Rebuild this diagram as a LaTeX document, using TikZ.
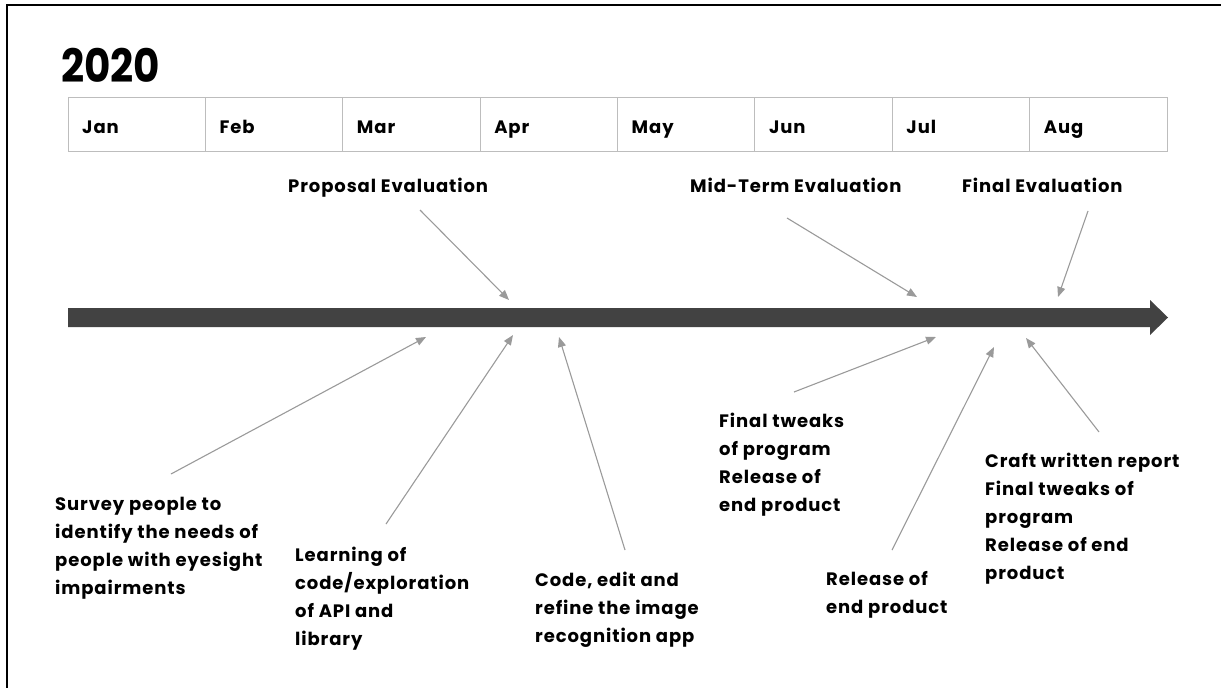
\documentclass[tikz,border=0pt]{standalone}
\usepackage{fontspec}
\setmainfont{Poppins}[LetterSpace=5]
\newfontfamily\yearfont{Poppins}[FakeStretch=0.88]
\usetikzlibrary{arrows.meta}
\definecolor{barcol}{HTML}{424242}
\definecolor{arrcol}{HTML}{9A9A9A}
\definecolor{gridcol}{HTML}{BDBDBD}
\tikzset{
  txt/.style={font=\bfseries\fontsize{18}{28}\selectfont, inner sep=0pt},
  lbl/.style={txt, align=left, anchor=north west},
  evl/.style={txt, anchor=base west},
  mon/.style={txt, anchor=base west},
  pointer/.style={draw=arrcol, line width=1.1pt, -{Triangle[length=10pt,width=8pt]}},
}
\begin{document}
\begin{tikzpicture}[x=1pt,y=-1pt]
\useasboundingbox (0,0) rectangle (1221,688);
% frame (top and left edges)
\draw[line width=2pt, black] (7,688) -- (7,5) -- (1221,5);
% year
\node[inner sep=0pt, anchor=base west, font=\yearfont\bfseries\fontsize{46}{46}\selectfont] (year) at (61,82) {2020};
% month table
\draw[gridcol, line width=1pt] (68,97) rectangle (1167,151);
\foreach \i in {1,...,7} { \draw[gridcol, line width=1pt] ({68+137.375*\i},97) -- ({68+137.375*\i},151); }
\foreach \m [count=\i from 0] in {Jan,Feb,Mar,Apr,May,Jun,Jul,Aug} {
  \node[mon] (m\i) at ({82+137.375*\i},133) {\m};
}
% timeline
\fill[barcol] (68,308) -- (1150,308) -- (1150,300) -- (1168,317.5) -- (1150,335) -- (1150,327) -- (68,327) -- cycle;
% evaluation labels
\node[evl] (prop) at (288,192) {Proposal Evaluation};
\node[evl] (mid) at (690,192) {Mid-Term Evaluation};
\node[evl] (fin) at (962,192) {Final Evaluation};
% activity labels
\node[lbl] (survey) at (55,497) {Survey people to\\identify the needs of\\people with eyesight\\impairments};
\node[lbl] (learn) at (295,547) {Learning of\\code/exploration\\of API and\\library};
\node[lbl] (code) at (535,572) {Code, edit and\\refine the image\\recognition app};
\node[lbl] (tweak) at (719,413) {Final tweaks\\of program\\Release of\\end product};
\node[lbl] (rel) at (826,571) {Release of\\end product};
\node[lbl] (craft) at (985,453) {Craft written report\\Final tweaks of\\program\\Release of end\\product};
% connector end points
\coordinate (p1) at (420,210); \coordinate (q1) at (509,300);
\coordinate (p2) at (787,218); \coordinate (q2) at (917,297);
\coordinate (p3) at (1088,211); \coordinate (q3) at (1058,297);
\coordinate (p4) at (171,474); \coordinate (q4) at (426,337);
\coordinate (p5) at (386,524); \coordinate (q5) at (513,335);
\coordinate (p6) at (625,550); \coordinate (q6) at (559,337);
\coordinate (p7) at (794,392); \coordinate (q7) at (936,337);
\coordinate (p8) at (892,550); \coordinate (q8) at (994,347);
\coordinate (p9) at (1099,432); \coordinate (q9) at (1026,338);
\foreach \k in {1,...,9} { \draw[pointer] (p\k) -- (q\k); }
\end{tikzpicture}
\end{document}
